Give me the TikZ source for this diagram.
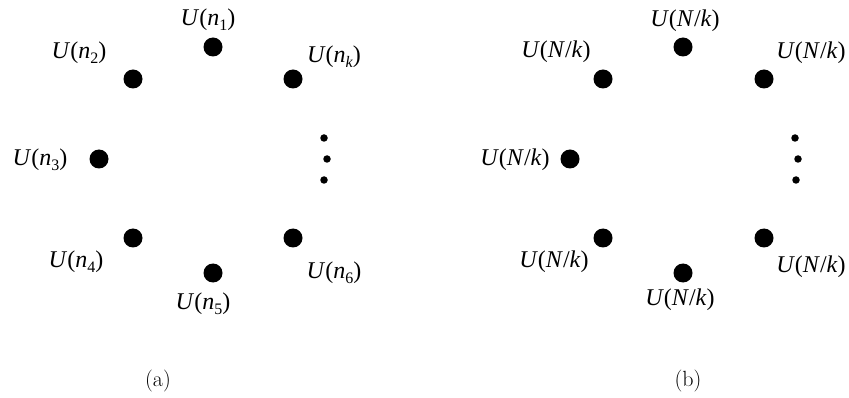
\documentclass[tikz,border=0pt]{standalone}
\usepackage{fontspec}
\newfontfamily\labfont{Liberation Serif}
\newcommand\Ulab[1]{{\labfont\fontsize{24}{24}\selectfont\textit{U}(#1)}}
\newcommand\nsub[1]{\textit{n}\raisebox{-0.22em}{\fontsize{16}{16}\selectfont #1}}
\newcommand\Nk{\textit{N}/\textit{k}}
\begin{document}
\begin{tikzpicture}[x=1pt,y=-1pt,
  bigdot/.style={circle,fill=black,inner sep=0pt,minimum size=19pt},
  smalldot/.style={circle,fill=black,inner sep=0pt,minimum size=7.5pt},
  lab/.style={inner sep=0pt,anchor=center},
  captext/.style={inner sep=0pt,font=\fontsize{22}{22}\selectfont}]
\useasboundingbox (0,0) rectangle (849,398);

% (a) nodes with distinct sizes
\node[bigdot] (a1) at (213,47) {};
\node[bigdot] (a2) at (133,79) {};
\node[bigdot] (ak) at (293,79) {};
\node[bigdot] (a3) at (99,159) {};
\node[bigdot] (a4) at (133,238) {};
\node[bigdot] (a5) at (213,273) {};
\node[bigdot] (a6) at (293,238) {};
\node[smalldot] (ad1) at (324,138) {};
\node[smalldot] (ad2) at (327,159) {};
\node[smalldot] (ad3) at (324,180) {};

\node[lab] (la1) at (208,20) {\Ulab{\nsub{1}}};
\node[lab] (la2) at (79,53) {\Ulab{\nsub{2}}};
\node[lab] (lak) at (334,57) {\Ulab{\nsub{\textit{k}}}};
\node[lab] (la3) at (40,160) {\Ulab{\nsub{3}}};
\node[lab] (la4) at (76,262) {\Ulab{\nsub{4}}};
\node[lab] (la5) at (203,304) {\Ulab{\nsub{5}}};
\node[lab] (la6) at (334,273) {\Ulab{\nsub{6}}};

% (b) nodes of equal size N/k
\node[bigdot] (b1) at (683,47) {};
\node[bigdot] (b2) at (603,79) {};
\node[bigdot] (bk) at (764,79) {};
\node[bigdot] (b3) at (570,159) {};
\node[bigdot] (b4) at (603,238) {};
\node[bigdot] (b5) at (683,273) {};
\node[bigdot] (b6) at (764,238) {};
\node[smalldot] (bd1) at (795,138) {};
\node[smalldot] (bd2) at (798,159) {};
\node[smalldot] (bd3) at (796,180) {};

\node[lab] (lb1) at (685,21) {\Ulab{\Nk}};
\node[lab] (lb2) at (556,52) {\Ulab{\Nk}};
\node[lab] (lbk) at (811,53) {\Ulab{\Nk}};
\node[lab] (lb3) at (515,160) {\Ulab{\Nk}};
\node[lab] (lb4) at (554,262) {\Ulab{\Nk}};
\node[lab] (lb5) at (680,300) {\Ulab{\Nk}};
\node[lab] (lb6) at (811,267) {\Ulab{\Nk}};

% captions
\node[captext] (capa) at (158,381) {(a)};
\node[captext] (capb) at (688,381) {(b)};
\end{tikzpicture}
\end{document}
